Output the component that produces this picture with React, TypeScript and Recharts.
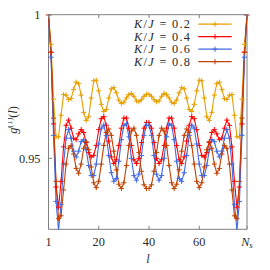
import React from "react";
import { LineChart, Line, XAxis, YAxis, ReferenceArea } from "recharts";

// x positions (site index l, drawn from 1 to N_s)
const lValues = [
  0, 1, 2, 3, 4, 5, 6, 7, 8, 9, 10, 11, 12, 13, 14, 15, 16, 17, 18, 19,
  20, 21, 22, 23, 24, 25, 26, 27, 28, 29, 30, 31, 32, 33, 34, 35, 36, 37, 38, 39,
  40, 41, 42, 43, 44, 45, 46, 47, 48, 49, 50, 51, 52, 53, 54, 55, 56, 57, 58, 59,
  60, 61, 62, 63, 64, 65, 66, 67, 68, 69, 70, 71, 72, 73, 74, 75, 76, 77, 78, 79,
];

const seriesNames = ["K/J = 0.2", "K/J = 0.4", "K/J = 0.6", "K/J = 0.8"];
const seriesColors = ["#E69F00", "#FF0000", "#4169E1", "#C04000"];

const g02 = [
  1.0, 0.9897, 0.9706, 0.9575, 0.9575, 0.965, 0.9722, 0.972, 0.9705, 0.9708,
  0.974, 0.9765, 0.976, 0.972, 0.966, 0.9632, 0.9645, 0.971, 0.977, 0.9772,
  0.9735, 0.9688, 0.9663, 0.967, 0.971, 0.9742, 0.9746, 0.9728, 0.9703, 0.9691,
  0.9695, 0.971, 0.9722, 0.9726, 0.9716, 0.97, 0.9697, 0.9704, 0.9716, 0.9723,
  0.9723, 0.9716, 0.9704, 0.9697, 0.97, 0.9716, 0.9726, 0.9722, 0.971, 0.9695,
  0.9691, 0.9703, 0.9728, 0.9746, 0.9742, 0.971, 0.967, 0.9663, 0.9688, 0.9735,
  0.9772, 0.977, 0.971, 0.9645, 0.9632, 0.966, 0.972, 0.976, 0.9765, 0.974,
  0.9708, 0.9705, 0.972, 0.9722, 0.965, 0.9575, 0.9575, 0.9706, 0.9897, 1.0,
];

const g04 = [
  1.0, 0.9869, 0.962, 0.94, 0.933, 0.942, 0.954, 0.9615, 0.9633, 0.9605,
  0.957, 0.9565, 0.9585, 0.96, 0.959, 0.9555, 0.952, 0.9505, 0.951, 0.9545,
  0.96, 0.9638, 0.9645, 0.9615, 0.956, 0.9505, 0.9482, 0.9495, 0.9545, 0.9605,
  0.964, 0.964, 0.9605, 0.9545, 0.9495, 0.9482, 0.95, 0.9555, 0.9605, 0.9625,
  0.9625, 0.9605, 0.9555, 0.95, 0.9482, 0.9495, 0.9545, 0.9605, 0.964, 0.964,
  0.9605, 0.9545, 0.9495, 0.9482, 0.9505, 0.956, 0.9615, 0.9645, 0.9638, 0.96,
  0.9545, 0.951, 0.9505, 0.952, 0.9555, 0.959, 0.96, 0.9585, 0.9565, 0.957,
  0.9605, 0.9633, 0.9615, 0.954, 0.942, 0.933, 0.94, 0.962, 0.9869, 1.0,
];

const g06 = [
  1.0, 0.9852, 0.958, 0.935, 0.925, 0.934, 0.948, 0.957, 0.96, 0.957,
  0.9525, 0.9505, 0.9525, 0.9558, 0.9565, 0.953, 0.9475, 0.944, 0.944, 0.948,
  0.955, 0.9605, 0.9616, 0.958, 0.951, 0.945, 0.942, 0.943, 0.949, 0.9565,
  0.9615, 0.962, 0.9575, 0.95, 0.944, 0.9424, 0.9445, 0.951, 0.958, 0.9615,
  0.9615, 0.958, 0.951, 0.9445, 0.9424, 0.944, 0.95, 0.9575, 0.962, 0.9615,
  0.9565, 0.949, 0.943, 0.942, 0.945, 0.951, 0.958, 0.9616, 0.9605, 0.955,
  0.948, 0.944, 0.944, 0.9475, 0.953, 0.9565, 0.9558, 0.9525, 0.9505, 0.9525,
  0.957, 0.96, 0.957, 0.948, 0.934, 0.925, 0.935, 0.958, 0.9852, 1.0,
];

const g08 = [
  1.0, 0.987, 0.964, 0.942, 0.929, 0.93, 0.939, 0.948, 0.9535, 0.9545,
  0.9515, 0.9465, 0.9448, 0.948, 0.9535, 0.9558, 0.953, 0.947, 0.9415, 0.9398,
  0.942, 0.948, 0.9545, 0.959, 0.9602, 0.958, 0.9525, 0.946, 0.941, 0.9395,
  0.9415, 0.9475, 0.9545, 0.9595, 0.9605, 0.958, 0.952, 0.9455, 0.9408, 0.9395,
  0.9395, 0.9408, 0.9455, 0.952, 0.958, 0.9605, 0.9595, 0.9545, 0.9475, 0.9415,
  0.9395, 0.941, 0.946, 0.9525, 0.958, 0.9602, 0.959, 0.9545, 0.948, 0.942,
  0.9398, 0.9415, 0.947, 0.953, 0.9558, 0.9535, 0.948, 0.9448, 0.9465, 0.9515,
  0.9545, 0.9535, 0.948, 0.939, 0.93, 0.929, 0.942, 0.964, 0.987, 1.0,
];

const xTicks = [0, 20, 40, 60, 79];
const xTickLabels = ["1", "20", "40", "60", "N_s"];
const yTicks = [0.95, 1];
const yTickLabels = ["0.95", "1"];
const yMin = 0.9253;
const yMax = 1;

const W = 262;
const H = 262;
const M = { top: 6.7, right: 23, bottom: 10.7, left: 0.5 };
const Y_AXIS_W = 40;
const X_AXIS_H = 30;
const PW = W - M.left - M.right - Y_AXIS_W;
const PH = H - M.top - M.bottom - X_AXIS_H;

const FRAME = "#808080";
const TEXT = "#2a2a2a";
const FONT = "Liberation Serif, Times New Roman, serif";
const FS = 12.3;

const data = lValues.map((l, i) => ({
  l,
  s0: g02[i],
  s1: g04[i],
  s2: g06[i],
  s3: g08[i],
}));

const Plus = (props: any) => {
  const { cx, cy, stroke } = props;
  if (cx == null || cy == null) return <g />;
  return (
    <path
      d={`M${cx - 2.6},${cy}h5.2M${cx},${cy - 2.6}v5.2`}
      stroke={stroke}
      strokeWidth={1}
      fill="none"
    />
  );
};

const XTick = (props: any) => {
  const { x, y, payload } = props;
  const idx = xTicks.indexOf(payload.value);
  const label = xTickLabels[idx];
  return (
    <g>
      <line x1={x} x2={x} y1={y} y2={y - 3.5} stroke={FRAME} strokeWidth={1} />
      <line x1={x} x2={x} y1={y - PH} y2={y - PH + 3.5} stroke={FRAME} strokeWidth={1} />
      {label === "N_s" ? (
        <text x={x} y={y + 16.2} textAnchor="middle" fontFamily={FONT} fontSize={FS} fill={TEXT}>
          <tspan fontStyle="italic">N</tspan>
          <tspan fontStyle="italic" fontSize={9} dy={2}>s</tspan>
        </text>
      ) : (
        <text x={x} y={y + 16.2} textAnchor="middle" fontFamily={FONT} fontSize={FS} fill={TEXT}>
          {label}
        </text>
      )}
    </g>
  );
};

const YTick = (props: any) => {
  const { x, y, payload } = props;
  const idx = yTicks.indexOf(payload.value);
  const label = yTickLabels[idx];
  return (
    <g>
      <line x1={x} x2={x + 3.5} y1={y} y2={y} stroke={FRAME} strokeWidth={1} />
      <line x1={x + PW} x2={x + PW - 3.5} y1={y} y2={y} stroke={FRAME} strokeWidth={1} />
      <text x={x - 8} y={y + 4.3} textAnchor="end" fontFamily={FONT} fontSize={FS} fill={TEXT}>
        {label}
      </text>
    </g>
  );
};

// overlay uses page coordinates (svg placed over the whole 270x270 page)
const legendBaselines = [28, 40.5, 53, 65.5];

const Overlay = () => (
  <svg
    width={270}
    height={270}
    style={{ position: "absolute", left: -8, top: -8, pointerEvents: "none" }}
  >
    {seriesNames.map((name, i) => {
      const by = legendBaselines[i];
      const [lhs, rhs] = name.split(" = ");
      const [k, j] = lhs.split("/");
      return (
        <g key={name}>
          <text
            x={134}
            y={by}
            fontFamily={FONT}
            fontSize={FS}
            fill={TEXT}
            textLength={56}
            lengthAdjust="spacing"
          >
            <tspan fontStyle="italic">{k}</tspan>
            <tspan>/</tspan>
            <tspan fontStyle="italic">{j}</tspan>
            <tspan> = {rhs}</tspan>
          </text>
          <line
            x1={198.3}
            x2={231.7}
            y1={by - 3.8}
            y2={by - 3.8}
            stroke={seriesColors[i]}
            strokeWidth={1.2}
          />
          <path
            d={`M${215 - 2.6},${by - 3.8}h5.2M215,${by - 3.8 - 2.6}v5.2`}
            stroke={seriesColors[i]}
            strokeWidth={1}
          />
        </g>
      );
    })}
    <text
      x={16.5}
      y={120}
      transform="rotate(-90, 16.5, 120)"
      textAnchor="middle"
      fontFamily={FONT}
      fontSize={FS}
      fill={TEXT}
    >
      <tspan fontStyle="italic">g</tspan>
      <tspan fontSize={8.5} dy={-4.5}>(1)</tspan>
      <tspan dy={4.5}>(</tspan>
      <tspan fontStyle="italic">l</tspan>
      <tspan>)</tspan>
    </text>
    <text x={148} y={263} textAnchor="middle" fontFamily={FONT} fontSize={FS} fill={TEXT} fontStyle="italic">
      l
    </text>
  </svg>
);

export default function App() {
  return (
    <div style={{ position: "relative", width: W, height: H }}>
      <LineChart width={W} height={H} data={data} margin={M}>
        <XAxis
          dataKey="l"
          type="number"
          domain={[0, 79]}
          ticks={xTicks}
          interval={0}
          axisLine={false}
          tickLine={false}
          tickSize={0}
          tickMargin={0}
          height={X_AXIS_H}
          tick={<XTick />}
        />
        <YAxis
          type="number"
          domain={[yMin, yMax]}
          ticks={yTicks}
          interval={0}
          allowDataOverflow
          axisLine={false}
          tickLine={false}
          tickSize={0}
          tickMargin={0}
          width={Y_AXIS_W}
          tick={<YTick />}
        />
        <ReferenceArea
          x1={0}
          x2={79}
          y1={yMin}
          y2={yMax}
          fill="none"
          fillOpacity={0}
          stroke={FRAME}
          strokeWidth={1}
          ifOverflow="visible"
        />
        {["s0", "s1", "s2", "s3"].map((k, i) => (
          <Line
            key={k}
            dataKey={k}
            name={seriesNames[i]}
            stroke={seriesColors[i]}
            strokeWidth={1.1}
            dot={<Plus />}
            activeDot={false}
            isAnimationActive={false}
            type="linear"
          />
        ))}
      </LineChart>
      <Overlay />
    </div>
  );
}
